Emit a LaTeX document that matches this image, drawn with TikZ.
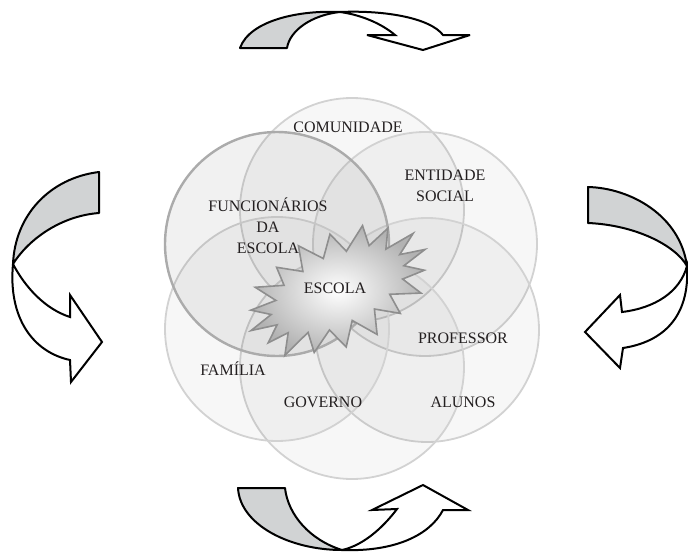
\documentclass[tikz,border=0pt]{standalone}
\usepackage{fontspec}
\setmainfont{Liberation Serif}
\definecolor{bandgray}{HTML}{D1D3D4}
\definecolor{circedge}{HTML}{D2D2D2}
\definecolor{darkedge}{HTML}{ABABAB}
\definecolor{staredge}{HTML}{8E8E8E}
\definecolor{txt}{HTML}{231F20}
\tikzset{
 bandback/.style={fill=bandgray, draw=black, line width=2pt, line join=round},
 bandfront/.style={fill=white, draw=black, line width=2pt, line join=miter, miter limit=6},
 ring/.style={circle, minimum size=224pt, inner sep=0pt, fill=black, fill opacity=0.032, draw=circedge, line width=1.8pt},
 darkring/.style={ring, draw=darkedge, line width=2.4pt, fill opacity=0.055},
 lbl/.style={font=\fontsize{16}{21}\selectfont, text=txt, align=center, inner sep=0pt},
 starstyle/.style={draw=staredge, line width=1.6pt, line join=miter, inner color=white, outer color=gray!60}
}
\begin{document}
\begin{tikzpicture}[x=1pt,y=-1pt]
\useasboundingbox (0,0) rectangle (688,552);

% circles
\node[ring] (comunidade) at (352,210) {};
\node[ring] (entidade) at (425,244) {};
\node[ring] (professor) at (427,330) {};
\node[ring] (governo) at (352,367) {};
\node[ring] (familia) at (277,329) {};
\node[darkring] (funcionarios) at (277,244) {};

% starburst
\begin{scope}[shift={(338,290)}, rotate=25]
\shadedraw[starstyle] (96,0)
 \foreach \a/\f/\g in {10/.74/.6, 20/.96/.97, 30/.76/.62, 41/1.02/1.03, 50/.73/.6, 60/.97/.98, 70/.76/.62, 80/1.0/1.03, 90/.74/.6, 100/1/1, 110/.75/.62, 121/.97/.97, 130/.73/.6, 140/1.03/1.02, 150/.76/.63, 160/.95/.96, 170/.74/.6, 180/1/1, 190/.75/.62, 200/.97/.97, 210/.73/.6, 221/1.02/1.02, 230/.76/.63, 240/.96/.96, 250/.73/.6, 260/1.03/1.03, 270/.75/.62, 280/.98/.98, 290/.73/.6, 301/1/1, 310/.76/.63, 320/.97/.97, 330/.73/.6, 340/1.02/1.02, 350/.75/.62}
 { -- ({96*\f*cos(\a)},{56*\g*sin(\a)}) } -- cycle;
\end{scope}

% labels
\node[lbl] (tcom) at (348,127) {COMUNIDADE};
\node[lbl] (tent) at (445,186) {ENTIDADE\\SOCIAL};
\node[lbl] (tfun) at (268,226) {FUNCIONÁRIOS\\DA\\ESCOLA};
\node[lbl] (tesc) at (335,288) {ESCOLA};
\node[lbl] (tpro) at (463,338) {PROFESSOR};
\node[lbl] (tfam) at (233,369) {FAMÍLIA};
\node[lbl] (tgov) at (323,402) {GOVERNO};
\node[lbl] (talu) at (463,402) {ALUNOS};

% top arrow
\draw[bandback] (240,48) .. controls (250,20) and (300,10) .. (340,12)
  .. controls (312,15) and (290,30) .. (287,48) -- cycle;
\draw[bandfront] (340,12) .. controls (385,10) and (430,18) .. (443,35)
  -- (470,35) -- (423,50) -- (367,35) -- (395,35)
  .. controls (382,24) and (362,15) .. (340,12) -- cycle;

% left arrow
\draw[bandback] (99,172) .. controls (50,178) and (15,215) .. (13,264)
  .. controls (28,240) and (60,216) .. (99,213) -- cycle;
\draw[bandfront] (13,264) .. controls (25,287) and (45,309) .. (70,317)
  -- (70,295) -- (102,342) -- (71,382) -- (70,360)
  .. controls (33,352) and (8,318) .. (13,264) -- cycle;

% right arrow
\draw[bandback] (588,187) .. controls (630,188) and (680,215) .. (687,266)
  .. controls (675,245) and (635,225) .. (588,223) -- cycle;
\draw[bandfront] (687,266) .. controls (680,292) and (655,308) .. (622,312)
  -- (620,295) -- (585,332) -- (620,368) -- (623,348)
  .. controls (662,342) and (690,318) .. (687,266) -- cycle;

% bottom arrow
\draw[bandback] (238,488) .. controls (240,525) and (290,550) .. (342,550)
  .. controls (310,540) and (288,515) .. (285,488) -- cycle;
\draw[bandfront] (342,550) .. controls (365,545) and (385,525) .. (397,509)
  -- (372,510) -- (423,485) -- (468,510) -- (443,510)
  .. controls (430,535) and (395,552) .. (342,550) -- cycle;
\end{tikzpicture}
\end{document}
